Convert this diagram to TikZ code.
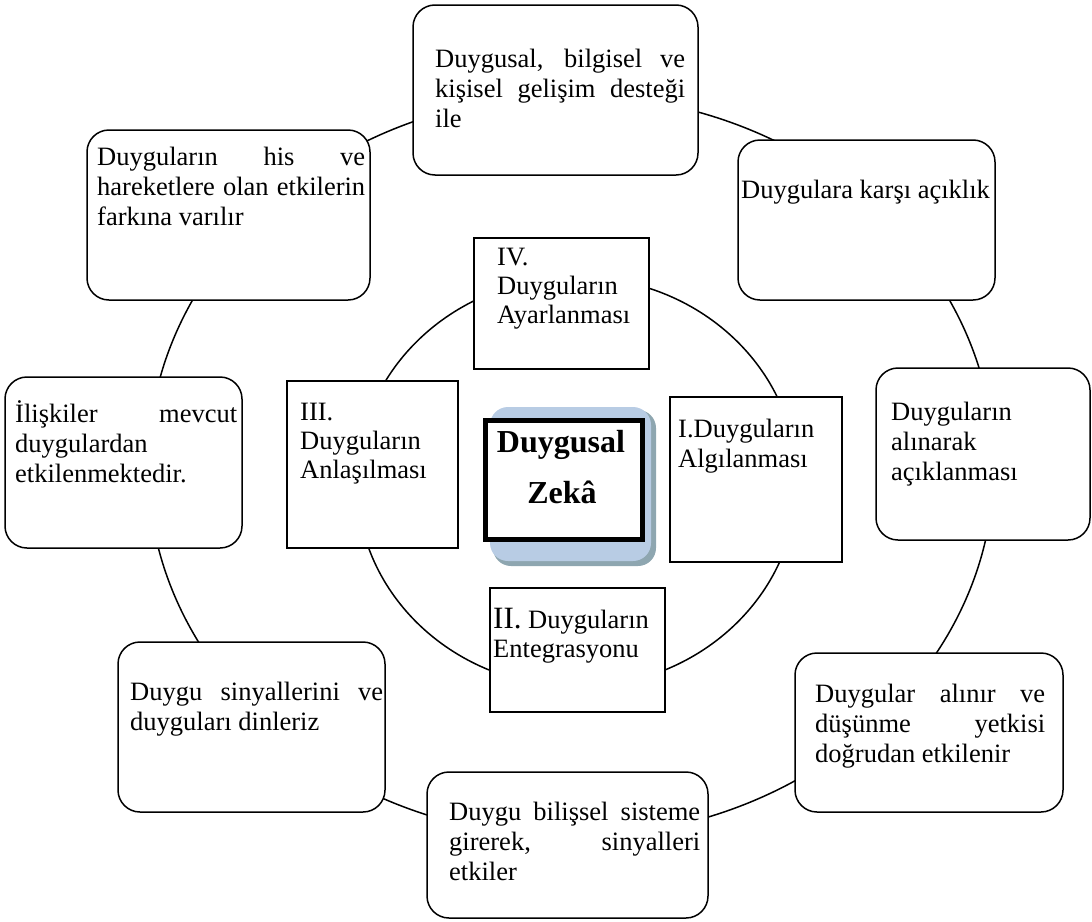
\documentclass[tikz,border=0pt]{standalone}
\usepackage{fontspec}
\setmainfont{Liberation Serif}
\newcommand{\jl}[1]{\makebox[\linewidth][s]{#1}}
\definecolor{shadelight}{HTML}{B8CCE4}
\definecolor{shadedark}{HTML}{8EA6B0}
\begin{document}
\begin{tikzpicture}[x=1pt,y=-1pt,
  obox/.style={draw, line width=1.5pt, rounded corners=22pt, fill=white, inner sep=0pt},
  ibox/.style={draw, line width=1.5pt, fill=white, inner sep=0pt},
  txt/.style={inner sep=0pt, anchor=base west, font=\fontsize{26.5}{30}\selectfont},
  ring/.style={line width=1.5pt}]
\useasboundingbox (0,0) rectangle (1092,921);
% rings
\draw[ring] (571,466) ellipse [x radius=423, y radius=371];
\draw[ring] (577,482) ellipse [x radius=220, y radius=205];
% outer boxes
\node[obox, minimum width=285pt, minimum height=170pt] (b1) at (555.5,90) {};
\node[obox, minimum width=283pt, minimum height=170pt] (b2) at (228.5,215) {};
\node[obox, minimum width=257pt, minimum height=160pt] (b3) at (866.5,220) {};
\node[obox, minimum width=214pt, minimum height=172pt] (b4) at (983,454) {};
\node[obox, minimum width=237pt, minimum height=171pt] (b5) at (123.5,462.5) {};
\node[obox, minimum width=267pt, minimum height=170pt] (b6) at (251.5,727) {};
\node[obox, minimum width=268pt, minimum height=159pt] (b7) at (929,732.5) {};
\node[obox, minimum width=281pt, minimum height=146pt] (b8) at (567.5,845) {};
% inner boxes
\node[ibox, minimum width=175pt, minimum height=131pt] (i4) at (561.5,303.5) {};
\node[ibox, minimum width=171pt, minimum height=167pt] (i3) at (372.5,464.5) {};
\node[ibox, minimum width=172pt, minimum height=165pt] (i1) at (756,479.5) {};
\node[ibox, minimum width=175pt, minimum height=124pt] (i2) at (577.5,650) {};
% centre
\fill[shadedark, rounded corners=18pt] (493,410) rectangle (656,566);
\fill[shadelight, rounded corners=18pt] (490,407) rectangle (651,561);
\node[draw, line width=5pt, fill=white, inner sep=0pt, minimum width=157pt, minimum height=119pt] (zk) at (564,480) {};
\node[inner sep=0pt, anchor=base, font=\bfseries\fontsize{32}{40}\selectfont] (zt1) at (561,452) {Duygusal};
\node[inner sep=0pt, anchor=base, font=\bfseries\fontsize{32}{40}\selectfont] (zt2) at (562,503) {Zekâ};
% outer texts
\node[txt] (t1) at (435,67) {\parbox[t]{250pt}{\jl{Duygusal, bilgisel ve}\\\jl{kişisel gelişim desteği}\\ile}};
\node[txt] (t2) at (97,165) {\parbox[t]{268pt}{\jl{Duyguların his ve}\\\jl{hareketlere olan etkilerin}\\farkına varılır}};
\node[txt] (t3) at (741,198) {Duygulara karşı açıklık};
\node[txt] (t4) at (891,420) {\parbox[t]{190pt}{Duyguların\\alınarak\\açıklanması}};
\node[txt] (t5) at (15,422) {\parbox[t]{222pt}{\jl{İlişkiler mevcut}\\duygulardan\\etkilenmektedir.}};
\node[txt] (t6) at (130,700) {\parbox[t]{253pt}{\jl{Duygu sinyallerini ve}\\duyguları dinleriz}};
\node[txt] (t7) at (815,702) {\parbox[t]{230pt}{\jl{Duygular alınır ve}\\\jl{düşünme yetkisi}\\doğrudan etkilenir}};
\node[txt] (t8) at (449,820) {\parbox[t]{251pt}{\jl{Duygu bilişsel sisteme}\\\jl{girerek, sinyalleri}\\etkiler}};
% inner texts
\node[txt, font=\fontsize{26.5}{29}\selectfont] (s4) at (497,265) {\parbox[t]{150pt}{IV.\\Duyguların\\Ayarlanması}};
\node[txt, font=\fontsize{26.5}{29}\selectfont] (s3) at (300,420) {\parbox[t]{150pt}{III.\\Duyguların\\Anlaşılması}};
\node[txt, font=\fontsize{26.5}{30}\selectfont] (s1) at (678,437) {\parbox[t]{160pt}{I.Duyguların\\Algılanması}};
\node[txt, font=\fontsize{26.5}{29}\selectfont] (s2) at (493,628) {\parbox[t]{170pt}{{\fontsize{31}{29}\selectfont II.} Duyguların\\Entegrasyonu}};
\end{tikzpicture}
\end{document}
